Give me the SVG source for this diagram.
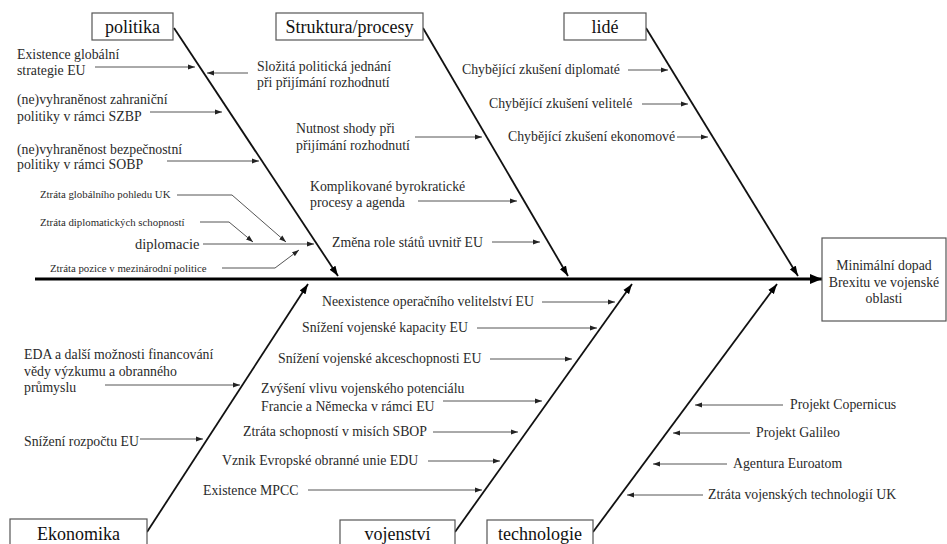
<svg xmlns="http://www.w3.org/2000/svg" width="947" height="544" viewBox="0 0 947 544">
<defs>
<marker id="a" markerUnits="userSpaceOnUse" markerWidth="7" markerHeight="6" refX="7" refY="3" orient="auto"><path d="M0,0.5 L7,3 L0,5.5 z" fill="#222"/></marker>
<marker id="b" markerUnits="userSpaceOnUse" markerWidth="10" markerHeight="8" refX="10" refY="4" orient="auto"><path d="M0,0.5 L10,4 L0,7.5 z" fill="#000"/></marker>
<marker id="c" markerUnits="userSpaceOnUse" markerWidth="12" markerHeight="10" refX="12" refY="5" orient="auto"><path d="M0,0 L12,5 L0,10 z" fill="#000"/></marker>
</defs>
<style>
text{font-family:"Liberation Serif","Times New Roman",serif;fill:#2a2a2a}
.t{font-size:13.8px}
.s{font-size:10.8px}
.h{font-size:18px;fill:#111}
.box{fill:#fff;stroke:#555;stroke-width:1.2}
.sub{stroke:#555;stroke-width:1;fill:none;marker-end:url(#a)}
.bone{stroke:#111;stroke-width:1.8;fill:none;marker-end:url(#b)}
</style>
<g id="connectors">
<line x1="35" y1="279" x2="822" y2="279" stroke="#000" stroke-width="3.2" marker-end="url(#c)"/>
<line class="bone" x1="174" y1="28" x2="338" y2="276"/>
<line class="bone" x1="423" y1="28" x2="568" y2="276"/>
<line class="bone" x1="646" y1="28" x2="798" y2="276"/>
<line class="bone" x1="147" y1="532" x2="308" y2="284"/>
<line class="bone" x1="455" y1="532" x2="632" y2="284"/>
<line class="bone" x1="593" y1="532" x2="777" y2="284"/>
<line class="sub" x1="95" y1="67" x2="195" y2="67"/>
<line class="sub" x1="248" y1="73" x2="207" y2="73"/>
<line class="sub" x1="150" y1="112" x2="222" y2="112"/>
<line class="sub" x1="167" y1="161" x2="259" y2="161"/>
<polyline class="sub" points="177,195 232,195 286,242"/>
<polyline class="sub" points="200,222 229,222 253,242"/>
<line class="sub" x1="203" y1="244" x2="314" y2="244"/>
<polyline class="sub" points="222,268 275,268 299,250"/>
<line class="sub" x1="415" y1="137" x2="482" y2="137"/>
<line class="sub" x1="418" y1="201" x2="517" y2="201"/>
<line class="sub" x1="492" y1="242" x2="540" y2="242"/>
<line class="sub" x1="628" y1="70" x2="668" y2="70"/>
<line class="sub" x1="642" y1="104" x2="688" y2="104"/>
<line class="sub" x1="677" y1="137" x2="708" y2="137"/>
<line class="sub" x1="105" y1="385" x2="240" y2="385"/>
<line class="sub" x1="140" y1="439" x2="203" y2="439"/>
<line class="sub" x1="308" y1="490" x2="482" y2="490"/>
<line class="sub" x1="542" y1="302" x2="615" y2="302"/>
<line class="sub" x1="477" y1="328" x2="597" y2="328"/>
<line class="sub" x1="490" y1="359" x2="572" y2="359"/>
<line class="sub" x1="443" y1="401" x2="542" y2="401"/>
<line class="sub" x1="433" y1="432" x2="518" y2="432"/>
<line class="sub" x1="428" y1="461" x2="500" y2="461"/>
<line class="sub" x1="783" y1="405" x2="695" y2="405"/>
<line class="sub" x1="750" y1="433" x2="673" y2="433"/>
<line class="sub" x1="727" y1="464" x2="653" y2="464"/>
<line class="sub" x1="703" y1="495" x2="627" y2="495"/>
</g>
<g id="politika"><rect class="box" x="92" y="13" width="81" height="27"/><text class="h" x="132.5" y="33" text-anchor="middle">politika</text></g>
<g id="struktura"><rect class="box" x="276" y="13" width="147" height="27"/><text class="h" x="349.5" y="33" text-anchor="middle">Struktura/procesy</text></g>
<g id="lide"><rect class="box" x="564" y="13" width="82" height="27"/><text class="h" x="605" y="33" text-anchor="middle">lidé</text></g>
<g id="ekonomika"><rect class="box" x="10" y="519" width="137" height="30"/><text class="h" x="78.5" y="540" text-anchor="middle">Ekonomika</text></g>
<g id="vojenstvi"><rect class="box" x="340" y="520" width="115" height="30"/><text class="h" x="397.5" y="540" text-anchor="middle">vojenství</text></g>
<g id="technologie"><rect class="box" x="487" y="520" width="106" height="30"/><text class="h" x="540" y="540" text-anchor="middle">technologie</text></g>
<g id="vysledek"><rect class="box" x="822" y="238" width="124" height="83"/>
<text class="t" x="884" y="270" text-anchor="middle">Minimální dopad</text>
<text class="t" x="884" y="287" text-anchor="middle">Brexitu ve vojenské</text>
<text class="t" x="884" y="303" text-anchor="middle">oblasti</text></g>
<g id="pricina-politika">
<text class="t" x="17" y="59">Existence globální</text>
<text class="t" x="17" y="75">strategie EU</text>
<text class="t" x="257" y="71">Složitá politická jednání</text>
<text class="t" x="257" y="87">při přijímání rozhodnutí</text>
<text class="t" x="17" y="104">(ne)vyhraněnost zahraniční</text>
<text class="t" x="17" y="121">politiky v rámci SZBP</text>
<text class="t" x="17" y="154">(ne)vyhraněnost bezpečnostní</text>
<text class="t" x="17" y="169">politiky v rámci SOBP</text>
<text class="s" x="40" y="198">Ztráta globálního pohledu UK</text>
<text class="s" x="40" y="226">Ztráta diplomatických schopností</text>
<text x="135" y="249" style="font-size:14.5px">diplomacie</text>
<text class="s" x="50" y="272">Ztráta pozice v mezinárodní politice</text>
</g>
<g id="pricina-struktura">
<text class="t" x="296" y="133">Nutnost shody při</text>
<text class="t" x="296" y="150">přijímání rozhodnutí</text>
<text class="t" x="310" y="191">Komplikované byrokratické</text>
<text class="t" x="310" y="207">procesy a agenda</text>
<text class="t" x="332" y="247">Změna role států uvnitř EU</text>
</g>
<g id="pricina-lide">
<text class="t" x="462" y="74">Chybějící zkušení diplomaté</text>
<text class="t" x="489" y="108">Chybějící zkušení velitelé</text>
<text class="t" x="508" y="141">Chybějící zkušení ekonomové</text>
</g>
<g id="pricina-ekonomika">
<text class="t" x="24" y="359">EDA a další možnosti financování</text>
<text class="t" x="24" y="376">vědy výzkumu a obranného</text>
<text class="t" x="24" y="392">průmyslu</text>
<text class="t" x="24" y="446">Snížení rozpočtu EU</text>
</g>
<g id="pricina-vojenstvi">
<text class="t" x="322" y="306">Neexistence operačního velitelství EU</text>
<text class="t" x="302" y="332">Snížení vojenské kapacity EU</text>
<text class="t" x="278" y="363">Snížení vojenské akceschopnosti EU</text>
<text class="t" x="261" y="393">Zvýšení vlivu vojenského potenciálu</text>
<text class="t" x="261" y="411">Francie a Německa v rámci EU</text>
<text class="t" x="427" y="436" text-anchor="end">Ztráta schopností v misích SBOP</text>
<text class="t" x="222" y="465">Vznik Evropské obranné unie EDU</text>
<text class="t" x="203" y="495">Existence MPCC</text>
</g>
<g id="pricina-technologie">
<text class="t" x="790" y="409">Projekt Copernicus</text>
<text class="t" x="756" y="437">Projekt Galileo</text>
<text class="t" x="733" y="468">Agentura Euroatom</text>
<text class="t" x="708" y="499">Ztráta vojenských technologií UK</text>
</g>
</svg>
